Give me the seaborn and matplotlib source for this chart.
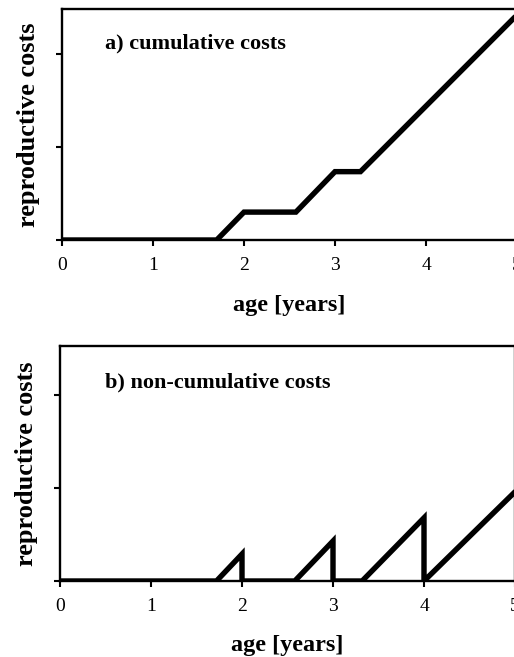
import matplotlib
matplotlib.use("Agg")
import matplotlib.pyplot as plt
import seaborn as sns
import pandas as pd

# cumulative costs (panel a)
age_a = [0.0, 1.70, 2.00, 2.57, 3.00, 3.28, 5.00]
cost_a = [0.0, 0.0, 0.30, 0.30, 0.735, 0.735, 2.42]

# non-cumulative costs (panel b)
age_b = [0.0, 1.72, 2.00, 2.00, 2.58, 3.00, 3.00, 3.32, 4.00, 4.00, 5.00]
cost_b = [0.0, 0.0, 0.29, 0.0, 0.0, 0.43, 0.0, 0.0, 0.68, 0.0, 0.96]

xticks = [0, 1, 2, 3, 4, 5]
yticks = [0, 1, 2]

sns.set_style("ticks")
plt.rcParams['font.family'] = ['Liberation Serif', 'DejaVu Serif']
plt.rcParams['text.color'] = 'black'
plt.rcParams['axes.labelcolor'] = 'black'
plt.rcParams['xtick.color'] = 'black'
plt.rcParams['ytick.color'] = 'black'

W, H = 514, 657
fig = plt.figure(figsize=(W / 100, H / 100), dpi=100)

panels = [
    dict(x=age_a, y=cost_a, rect=(62, 9, 517, 240), ytop=2.484, label="a) cumulative costs", ly=43),
    dict(x=age_b, y=cost_b, rect=(60, 346, 515, 581), ytop=2.53, label="b) non-cumulative costs", ly=382),
]

for p in panels:
    l, t, r, b = p["rect"]
    ax = fig.add_axes([l / W, (H - b) / H, (r - l) / W, (b - t) / H])
    df = pd.DataFrame({"age": p["x"], "cost": p["y"]})
    sns.lineplot(data=df, x="age", y="cost", ax=ax, color="black", lw=3.9,
                 sort=False, estimator=None, solid_joinstyle="miter")
    ax.set_xlim(0, 5)
    ax.set_ylim(0, p["ytop"])
    ax.set_xticks(xticks)
    ax.set_xticklabels([str(v) for v in xticks], fontsize=14)
    ax.set_yticks(yticks)
    ax.set_yticklabels([])
    ax.tick_params(axis="both", direction="out", length=4, width=1.5, color="black",
                   pad=8, labelcolor="black")
    for s in ax.spines.values():
        s.set_visible(True)
        s.set_linewidth(1.7)
        s.set_color("black")
    ax.set_xlabel("age [years]", fontsize=17.5, fontweight="bold", labelpad=15)
    ax.set_ylabel("reproductive costs", fontsize=19, fontweight="bold", labelpad=3.5)
    ax.text((105 - l) / (r - l), 1 - (p["ly"] - t) / (b - t), p["label"],
            transform=ax.transAxes, fontsize=16, fontweight="bold",
            ha="left", va="center")

fig.savefig("out.png", dpi=100)
